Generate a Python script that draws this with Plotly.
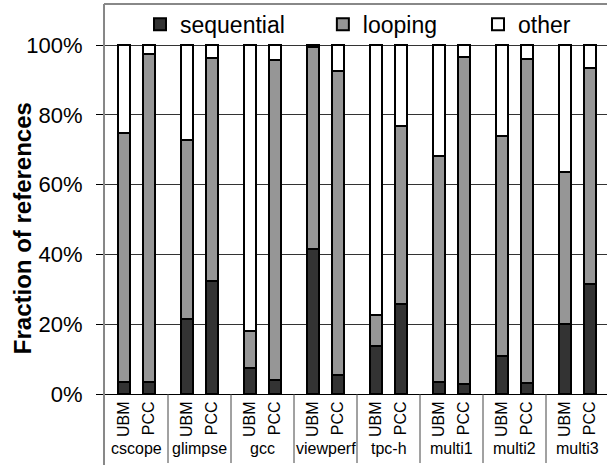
import plotly.graph_objects as go

groups = ["cscope", "glimpse", "gcc", "viewperf", "tpc-h", "multi1", "multi2", "multi3"]
policies = ["UBM", "PCC"]

# values per bar, ordered group by group: UBM, PCC
sequential = [3.3, 3.5, 21.5, 32.5, 7.5, 4.0, 41.5, 5.5, 13.7, 25.7, 3.4, 3.0, 10.8, 3.2, 20.0, 31.4]
looping =    [71.6, 93.8, 51.3, 63.9, 10.5, 91.8, 58.0, 87.0, 8.9, 51.0, 64.8, 93.7, 63.0, 92.9, 43.6, 62.1]
other =      [25.1, 2.7, 27.2, 3.6, 82.0, 4.2, 0.5, 7.5, 77.4, 23.3, 31.8, 3.3, 26.2, 3.9, 36.4, 6.5]

y_ticks = [0, 20, 40, 60, 80, 100]
y_tick_labels = ["0%", "20%", "40%", "60%", "80%", "100%"]

FONT = "Liberation Sans, Arial, sans-serif"
OFFSET = 0.2
BAR_W = 0.19

xpos = []
xlabels = []
for gi, g in enumerate(groups):
    for pi, p in enumerate(policies):
        xpos.append(gi + (-OFFSET if pi == 0 else OFFSET))
        xlabels.append(p)

fig = go.Figure()
series = [("sequential", sequential, "#333333", "legend"),
          ("looping", looping, "#969696", "legend2"),
          ("other", other, "#ffffff", "legend3")]
for name, vals, col, lg in series:
    fig.add_trace(go.Bar(
        x=xpos, y=vals, name=name, width=BAR_W, legend=lg,
        marker=dict(color=col, line=dict(color="#000000", width=2)),
    ))

shapes = []
# group separators below the axis
for gi in range(len(groups) - 1):
    shapes.append(dict(type="line", xref="x", yref="paper",
                       x0=gi + 0.5, x1=gi + 0.5, y0=0, y1=-0.177,
                       line=dict(color="#444444", width=1)))
# outer frame
shapes.append(dict(type="line", xref="paper", yref="paper", x0=-0.002, x1=1.01, y0=1, y1=1,
                   line=dict(color="#888888", width=2)))
shapes.append(dict(type="line", xref="paper", yref="paper", x0=-0.002, x1=-0.002, y0=1, y1=-0.2,
                   line=dict(color="#888888", width=2)))

annotations = []
for gi, g in enumerate(groups):
    annotations.append(dict(x=gi, y=-0.14, xref="x", yref="paper", text=g,
                            showarrow=False, xanchor="center", yanchor="middle",
                            font=dict(family=FONT, size=16, color="#000000")))
annotations.append(dict(x=-0.165, y=0.4256, xref="paper", yref="paper",
                        text="<b>Fraction of references</b>", textangle=-90,
                        showarrow=False, xanchor="center", yanchor="middle",
                        font=dict(family=FONT, size=24, color="#000000")))

def legend_at(x):
    return dict(orientation="h", x=x, y=1.003, xanchor="left", yanchor="top",
                font=dict(family=FONT, size=23), bgcolor="rgba(0,0,0,0)",
                borderwidth=0)

fig.update_layout(
    width=607, height=465,
    margin=dict(l=105, r=0, t=4, b=71),
    paper_bgcolor="#ffffff", plot_bgcolor="#ffffff",
    barmode="stack", bargap=0,
    font=dict(family=FONT, color="#000000"),
    showlegend=True,
    legend=legend_at(0.0697),
    legend2=legend_at(0.434),
    legend3=legend_at(0.743),
    shapes=shapes, annotations=annotations,
)
fig.update_xaxes(range=[-0.5, -0.5 + 502 / 63], tickvals=xpos, ticktext=xlabels,
                 tickangle=-90, ticks="", showgrid=False, zeroline=False,
                 showline=True, linecolor="#000000", linewidth=1,
                 tickfont=dict(family=FONT, size=16, color="#000000"))
fig.update_yaxes(range=[0, 100 * 390 / 349], tickvals=y_ticks, ticktext=y_tick_labels,
                 ticks="outside", ticklen=8, tickcolor="#000000", ticklabelstandoff=9,
                 showgrid=True, gridcolor="#333333", gridwidth=1, zeroline=False,
                 showline=True, linecolor="#000000", linewidth=1,
                 tickfont=dict(family=FONT, size=22, color="#000000"))

fig.write_html("out.html", config={"displayModeBar": False},
               post_script="document.body.style.margin='0';")
